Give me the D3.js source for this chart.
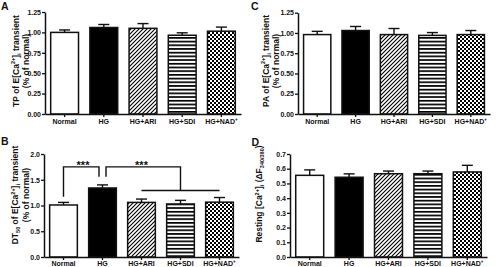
<!DOCTYPE html>
<html>
<head>
<meta charset="utf-8">
<script src="https://cdn.jsdelivr.net/npm/d3@7"></script>
<style>
  body { margin: 0; background: #fff; }
  svg { display: block; }
  text { font-family: "Liberation Sans", Arial, sans-serif; font-weight: bold; fill: #111; }
</style>
</head>
<body>
<svg id="chart" width="499" height="267"></svg>
<script>
// groups and values
const groups = ["Normal", "HG", "HG+ARI", "HG+SDI", "HG+NAD"];
const fills = ["#fff", "#000", "url(#diag)", "url(#hstripe)", "url(#checker)"];

const tpMean = [1.00, 1.06, 1.05, 0.965, 1.015];
const tpSem = [0.03, 0.037, 0.058, 0.03, 0.05];

const paMean = [0.98, 1.03, 0.98, 0.97, 0.98];
const paSem = [0.04, 0.05, 0.075, 0.035, 0.05];

const dtMean = [1.01, 1.34, 1.06, 1.03, 1.065];
const dtSem = [0.05, 0.06, 0.065, 0.07, 0.09];

const restMean = [0.555, 0.542, 0.566, 0.566, 0.578];
const restSem = [0.037, 0.023, 0.018, 0.018, 0.045];

const ticksTP = [0, 0.25, 0.5, 0.75, 1.0, 1.25];
const ticksDT = [0, 0.5, 1.0, 1.5, 2.0];
const ticksRest = [0, 0.1, 0.2, 0.3, 0.4, 0.5, 0.6, 0.7];

// significance brackets in panel B (value units)
const sigTop = 1.75;
const sigHGDrop = 1.56;
const sigNormalDrop = 1.17;
const sigGroupLine = 1.29;

const svg = d3.select("#chart");

// fill patterns
const defs = svg.append("defs");
const diag = defs.append("pattern").attr("id", "diag")
  .attr("patternUnits", "userSpaceOnUse").attr("width", 4).attr("height", 4);
diag.append("rect").attr("width", 4).attr("height", 4).attr("fill", "#fff");
diag.append("path").attr("d", "M-1,1 L1,-1 M0,4 L4,0 M3,5 L5,3")
  .attr("stroke", "#000").attr("stroke-width", 1.1);

const hs = defs.append("pattern").attr("id", "hstripe")
  .attr("patternUnits", "userSpaceOnUse").attr("width", 4).attr("height", 3.7);
hs.append("rect").attr("width", 4).attr("height", 3.7).attr("fill", "#fff");
hs.append("rect").attr("width", 4).attr("height", 1.7).attr("fill", "#000");

const ck = defs.append("pattern").attr("id", "checker")
  .attr("patternUnits", "userSpaceOnUse").attr("width", 4).attr("height", 4);
ck.append("rect").attr("width", 4).attr("height", 4).attr("fill", "#fff");
ck.append("rect").attr("width", 2).attr("height", 2).attr("fill", "#000");
ck.append("rect").attr("x", 2).attr("y", 2).attr("width", 2).attr("height", 2).attr("fill", "#000");

// writes text parts with super/subscripts
function richText(sel, parts, fs) {
  let cur = 0;
  parts.forEach(p => {
    const t = sel.append("tspan").text(p[0]);
    let target = 0;
    if (p[1] === "sup") { target = -fs * 0.4; t.attr("font-size", fs * 0.65); }
    if (p[1] === "sub") { target = fs * 0.25; t.attr("font-size", fs * 0.65); }
    if (target !== cur) t.attr("dy", target - cur);
    cur = target;
  });
}

function drawPanel(p) {
  const x = d3.scaleBand().domain(groups).range([p.left, p.right])
    .paddingInner(0.29).paddingOuter(0.145);
  const y = d3.scaleLinear().domain([0, p.max]).range([p.bottom, p.top]);
  const g = svg.append("g");

  // error bars (upper only)
  const eb = g.append("g").attr("stroke", "#111").attr("stroke-width", 1.4);
  p.mean.forEach((m, i) => {
    const cx = x(groups[i]) + x.bandwidth() / 2;
    eb.append("line").attr("x1", cx).attr("x2", cx).attr("y1", y(m)).attr("y2", y(m + p.sem[i]));
    eb.append("line").attr("x1", cx - 5.5).attr("x2", cx + 5.5)
      .attr("y1", y(m + p.sem[i])).attr("y2", y(m + p.sem[i]));
  });

  g.selectAll("rect.bar").data(p.mean).join("rect")
    .attr("class", "bar")
    .attr("x", (d, i) => x(groups[i]))
    .attr("y", d => y(d))
    .attr("width", x.bandwidth())
    .attr("height", d => p.bottom - y(d))
    .attr("fill", (d, i) => fills[i])
    .attr("stroke", "#111")
    .attr("stroke-width", 1.5);

  const yAxis = g.append("g").attr("transform", `translate(${p.left},0)`)
    .call(d3.axisLeft(y).tickValues(p.ticks).tickFormat(d3.format(p.fmt))
      .tickSize(3).tickSizeOuter(0).tickPadding(1));
  const xAxis = g.append("g").attr("transform", `translate(0,${p.bottom})`)
    .call(d3.axisBottom(x).tickSize(3).tickSizeOuter(0).tickFormat(""));
  [yAxis, xAxis].forEach(a => {
    a.select(".domain").attr("stroke", "#111").attr("stroke-width", 1.5);
    a.selectAll(".tick line").attr("stroke", "#111").attr("stroke-width", 1.3);
  });
  yAxis.selectAll(".tick text").attr("font-size", 7).attr("fill", "#222");

  // category labels
  groups.forEach((name, i) => {
    const t = g.append("text")
      .attr("x", x(name) + x.bandwidth() / 2)
      .attr("y", p.bottom + p.labelGap)
      .attr("text-anchor", "middle")
      .attr("font-size", 7);
    if (name === "HG+NAD") richText(t, [["HG+NAD", ""], ["+", "sup"]], 7);
    else t.text(name);
  });

  // y title
  const tg = g.append("g").attr("transform", `translate(${p.titleX},${p.titleY}) rotate(-90)`);
  p.title.forEach((line, k) => {
    const t = tg.append("text").attr("x", 0).attr("y", 3 + k * 10.5)
      .attr("text-anchor", "middle").attr("font-size", 8.5);
    richText(t, line, 8.5);
  });

  // panel letter
  svg.append("text").attr("x", p.letterX).attr("y", p.letterY)
    .attr("font-size", 10.5).text(p.letter);

  return { x, y, g };
}

drawPanel({
  letter: "A", letterX: 1, letterY: 9.5,
  left: 45, right: 241, top: 12, bottom: 114, max: 1.25,
  ticks: ticksTP, fmt: ".2f", mean: tpMean, sem: tpSem, labelGap: 9.5,
  titleX: 15.5, titleY: 61,
  title: [
    [["TP of E[Ca", ""], ["2+", "sup"], ["]", ""], ["i", "sub"], [" transient", ""]],
    [["(% of normal)", ""]]
  ]
});

drawPanel({
  letter: "C", letterX: 251, letterY: 9.5,
  left: 298, right: 490, top: 12.7, bottom: 114, max: 1.25,
  ticks: ticksTP, fmt: ".2f", mean: paMean, sem: paSem, labelGap: 9.5,
  titleX: 265.5, titleY: 61,
  title: [
    [["PA of E[Ca", ""], ["2+", "sup"], ["]", ""], ["i", "sub"], [" transient", ""]],
    [["(% of normal)", ""]]
  ]
});

const pb = drawPanel({
  letter: "B", letterX: 1, letterY: 144.5,
  left: 44, right: 239, top: 154, bottom: 257, max: 2,
  ticks: ticksDT, fmt: ".1f", mean: dtMean, sem: dtSem, labelGap: 8.5,
  titleX: 15, titleY: 195,
  title: [
    [["DT", ""], ["50", "sub"], [" of E[Ca", ""], ["2+", "sup"], ["]", ""], ["i", "sub"], [" transient", ""]],
    [["(% of normal)", ""]]
  ]
});

drawPanel({
  letter: "D", letterX: 251.5, letterY: 145.5,
  left: 290, right: 487, top: 154, bottom: 257, max: 0.7,
  ticks: ticksRest, fmt: ".1f", mean: restMean, sem: restSem, labelGap: 8.5,
  titleX: 259, titleY: 194,
  title: [
    [["Resting [Ca", ""], ["2+", "sup"], ["]", ""], ["i", "sub"], [" (\u0394F", ""], ["340/380", "sub"], [")", ""]]
  ]
});

// significance brackets in panel B
{
  const { x, y, g } = pb;
  const c = name => x(name) + x.bandwidth() / 2;
  const br = g.append("g").attr("fill", "none").attr("stroke", "#111").attr("stroke-width", 1.4);
  br.append("path").attr("d", d3.line()([
    [c("Normal"), y(sigNormalDrop)], [c("Normal"), y(sigTop)],
    [c("HG") - 3.5, y(sigTop)], [c("HG") - 3.5, y(sigHGDrop)]
  ]));
  br.append("path").attr("d", d3.line()([
    [c("HG") + 3.5, y(sigHGDrop)], [c("HG") + 3.5, y(sigTop)],
    [c("HG+SDI"), y(sigTop)], [c("HG+SDI"), y(sigGroupLine)]
  ]));
  br.append("line").attr("x1", c("HG+ARI")).attr("x2", c("HG+NAD"))
    .attr("y1", y(sigGroupLine)).attr("y2", y(sigGroupLine));
  const star = (cx) => g.append("text").attr("x", cx).attr("y", y(sigTop) + 2.5)
    .attr("text-anchor", "middle").attr("font-size", 11).text("***");
  star((c("Normal") + c("HG")) / 2);
  star((c("HG") + c("HG+SDI")) / 2);
}
</script>
</body>
</html>
